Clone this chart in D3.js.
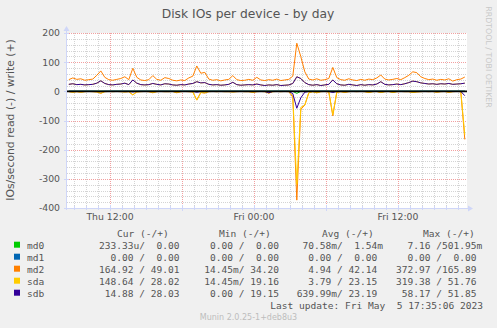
<!DOCTYPE html>
<meta charset="utf-8">
<script src="https://d3js.org/d3.v7.min.js"></script>
<style>
body { margin: 0; background: #f0f0f0; }
svg { display: block; }
.mono { font-family: "DejaVu Sans Mono", monospace; font-size: 9.55px; fill: #555; white-space: pre; }
.sans { font-family: "DejaVu Sans", sans-serif; fill: #555; }
</style>
<div id="chart"></div>
<script>

// devices and munin colours
var devices = ["md0", "md1", "md2", "sda", "sdb"];
var colors = ["#00CC00", "#0066B3", "#FF8000", "#FFCC00", "#330099"];

// one sample every 20 minutes, first at Thu 08:34
var firstSample = new Date(2023, 4, 4, 8, 34);
var stepMinutes = 20;

// IOs/second, read (drawn negative) and write (positive)
var md0Read  = [0,0,0,0,0,0,0,0,0,0, 0,0,0,0,0,0,0,0,0,0, 0,0,0,0,0,0,0,0,0,0, 0,0,0,0,0,0,0,0,0,0,
                0,0,0,0,0,0,0,0,0,0, 0,0,0,0,0,0,0,7,0,0, 0,0,0,0,0,0,0,0,0,0, 0,0,0,0,0,0,0,0,0,0,
                0,0,0,0,0,0,0,0,0,0, 0,0,0,0,0,0,0,0,0,0];
var md0Write = [0,0,0,0,0,0,0,0,0,0, 0,0,0,0,0,0,0,0,0,0, 0,0,0,0,0,0,0,0,0,0, 0,0,0,0,0,0,0,0,0,0,
                0,0,0,0,0,0,0,0,0,0, 0,0,0,0,0,0,0,0,0,0, 0,0,0,0,0,0,0,0,0,0, 0,0,0,0,0,0,0,0,0,0,
                0,0,0,0,0,0,0,0,0,0, 0,0,0,0,0,0,0,0,0,0];
var md1Read  = [0,0,0,0,0,0,0,0,0,0, 0,0,0,0,0,0,0,0,0,0, 0,0,0,0,0,0,0,0,0,0, 0,0,0,0,0,0,0,0,0,0,
                0,0,0,0,0,0,0,0,0,0, 0,0,0,0,0,0,0,0,0,0, 0,0,0,0,0,0,0,0,0,0, 0,0,0,0,0,0,0,0,0,0,
                0,0,0,0,0,0,0,0,0,0, 0,0,0,0,0,0,0,0,0,0];
var md1Write = [0,0,0,0,0,0,0,0,0,0, 0,0,0,0,0,0,0,0,0,0, 0,0,0,0,0,0,0,0,0,0, 0,0,0,0,0,0,0,0,0,0,
                0,0,0,0,0,0,0,0,0,0, 0,0,0,0,0,0,0,0,0,0, 0,0,0,0,0,0,0,0,0,0, 0,0,0,0,0,0,0,0,0,0,
                0,0,0,0,0,0,0,0,0,0, 0,0,0,0,0,0,0,0,0,0];
var md2Read  = [1,3,1,3,1,0.5,1,2,7,1, 0.5,1,0.5,1,2,1,12,2,1,0.5, 1,5,1,0.5,1,1,0.5,5,1,0.5,
                1,2,30,4,6,1,0.5,1,0.5,1, 1,2,1,0.5,1,1,4,1,0.5,1, 6,1,0.5,1,0.5,1,20,373,62,47,
                5,1,5,1,0.5,2,84,3,1,4, 1,0.5,1,0.5,1,4,1,0.5,4,1, 0.5,4,1,0.5,1,1,4,2,1,0.5,
                1,0.5,3,1,0.5,3,1,0.5,1,165];
var md2Write = [40,46,41,43,38,40,42,55,70,48, 40,38,41,44,50,40,79,48,39,37, 40,54,41,38,47,44,38,36,39,37,
                46,52,87,62,65,42,38,40,36,39, 41,54,40,37,38,41,38,48,39,37, 40,38,42,37,39,41,52,165,119,67,
                42,39,43,38,40,44,82,47,40,38, 43,39,37,41,38,42,40,46,56,42, 39,41,44,40,47,55,67,64,50,44,
                40,42,38,41,39,43,35,40,42,49];
var sdaRead  = [1,3,1,3,1,0.5,1,2,6,1, 0.5,1,0.5,1,2,1,12,2,1,0.5, 1,4,1,0.5,1,1,0.5,4,1,0.5,
                1,2,30,4,5,1,0.5,1,0.5,1, 1,2,1,0.5,1,1,3,1,0.5,1, 6,1,0.5,1,0.5,1,15,319,55,47,
                5,1,5,1,0.5,2,80,3,1,3, 1,0.5,1,0.5,1,4,1,0.5,4,1, 0.5,4,1,0.5,1,1,4,2,1,0.5,
                1,0.5,3,1,0.5,3,1,0.5,1,149];
var sdaWrite = [24,26,23,24,22,23,24,28,36,27, 23,22,24,25,28,23,39,28,23,22, 23,27,24,22,26,25,22,21,23,22,
                25,27,33,29,30,24,22,23,21,22, 24,31,23,21,22,23,22,25,22,20, 22,21,23,20,21,22,27,50,44,30,
                23,21,23,20,22,24,39,26,22,21, 24,22,20,23,21,23,22,25,33,24, 22,23,25,23,26,30,35,33,29,27,
                25,26,24,26,25,27,24,25,26,28];
var sdbRead  = [0.3,0.3,0.3,0.3,0.3,0.3,0.3,0.5,1,0.3, 0.3,0.3,0.3,0.3,0.3,0.3,2,0.3,0.3,0.3, 0.3,0.5,0.3,0.3,0.3,0.3,0.3,0.5,0.3,0.3,
                0.3,0.3,3,0.5,0.5,0.3,0.3,0.3,0.3,0.3, 0.3,0.3,0.3,0.3,0.3,0.3,0.5,0.3,0.3,0.3, 5,0.3,0.3,0.3,0.3,0.3,8,58,22,3,
                0.5,0.3,0.5,0.3,0.3,0.3,4,0.3,0.3,0.3, 0.3,0.3,0.3,0.3,0.3,0.3,0.3,0.3,0.3,0.3, 0.3,0.3,0.3,0.3,0.3,0.3,0.5,0.3,0.3,0.3,
                0.3,0.3,0.3,0.3,0.3,0.3,0.3,0.3,0.3,15];
var sdbWrite = [24,26,23,24,22,23,24,28,36,27, 23,22,24,25,28,23,39,28,23,22, 23,27,24,22,26,25,22,21,23,22,
                25,27,33,29,30,24,22,23,21,22, 24,31,23,21,22,23,22,25,22,20, 22,21,23,20,21,22,27,50,44,30,
                23,21,23,20,22,24,39,26,22,21, 24,22,20,23,21,23,22,25,33,24, 22,23,25,23,26,30,35,33,29,27,
                25,26,24,26,25,27,24,25,26,28];

var readSeries = [md0Read, md1Read, md2Read, sdaRead, sdbRead];
var writeSeries = [md0Write, md1Write, md2Write, sdaWrite, sdbWrite];

// axis ticks
var yTicks = [200, 100, 0, -100, -200, -300, -400];
var xTickDates = [new Date(2023, 4, 4, 12), new Date(2023, 4, 5, 0), new Date(2023, 4, 5, 12)];
var xTickLabels = ["Thu 12:00", "Fri 00:00", "Fri 12:00"];

// legend table (cur / min / avg / max as munin prints them)
var legendHeaders = ["Cur (-/+)", "Min (-/+)", "Avg (-/+)", "Max (-/+)"];
var legendCur = ["233.33u/  0.00", "  0.00 /  0.00", "164.92 / 49.01", "148.64 / 28.02", " 14.88 / 28.03"];
var legendMin = ["  0.00 /  0.00", "  0.00 /  0.00", " 14.45m/ 34.20", " 14.45m/ 19.16", "  0.00 / 19.15"];
var legendAvg = [" 70.58m/  1.54m", "  0.00 /  0.00", "  4.94 / 42.14", "  3.79 / 23.15", "639.99m/ 23.19"];
var legendMax = ["  7.16 /501.95m", "  0.00 /  0.00", "372.97 /165.89", "319.38 / 51.76", " 58.17 / 51.85"];

var width = 497, height = 328;
var plot = {left: 67, right: 467, top: 33, bottom: 208};

var svg = d3.select("#chart").append("svg")
    .attr("width", width)
    .attr("height", height);

svg.append("rect").attr("width", width).attr("height", height).attr("fill", "#f0f0f0");
svg.append("rect")
    .attr("x", plot.left).attr("y", plot.top)
    .attr("width", plot.right - plot.left).attr("height", plot.bottom - plot.top)
    .attr("fill", "#ffffff");

var x = d3.scaleTime()
    .domain([new Date(2023, 4, 4, 8, 25), new Date(2023, 4, 5, 17, 45)])
    .range([plot.left, plot.right]);
var y = d3.scaleLinear()
    .domain([-400, 200])
    .range([plot.bottom, plot.top]);

var snap = function(v) { return Math.round(v) + 0.5; };

// minor grid
var grid = svg.append("g").attr("shape-rendering", "crispEdges");
var hours = d3.timeHour.range(x.domain()[0], x.domain()[1]);
hours.forEach(function(h) {
  var major = h.getHours() % 6 == 0;
  grid.append("line")
    .attr("x1", snap(x(h))).attr("x2", snap(x(h)))
    .attr("y1", plot.top).attr("y2", plot.bottom)
    .attr("stroke", major ? "#f2a0a0" : "#d4d4d4")
    .attr("stroke-dasharray", "1,1");
});
d3.range(-380, 201, 20).forEach(function(v) {
  if (v == 0) return;
  var major = v % 100 == 0;
  grid.append("line")
    .attr("x1", plot.left).attr("x2", plot.right)
    .attr("y1", snap(y(v))).attr("y2", snap(y(v)))
    .attr("stroke", major ? "#f2a0a0" : "#d4d4d4")
    .attr("stroke-dasharray", "1,1");
});

// axis lines with arrows
var axisColor = "#cfd6f8";
svg.append("line")
  .attr("x1", 66.5).attr("x2", 66.5).attr("y1", plot.bottom + 2).attr("y2", 30)
  .attr("stroke", axisColor);
svg.append("line")
  .attr("x1", 64).attr("x2", 470).attr("y1", plot.bottom + 0.5).attr("y2", plot.bottom + 0.5)
  .attr("stroke", axisColor);
svg.append("path").attr("d", "M63.5,31 L66.5,26 L69.5,31 Z").attr("fill", axisColor);
svg.append("path").attr("d", "M468,205.5 L473,208.5 L468,211.5 Z").attr("fill", axisColor);
yTicks.forEach(function(v) {
  svg.append("line")
    .attr("x1", 64).attr("x2", 69).attr("y1", snap(y(v))).attr("y2", snap(y(v)))
    .attr("stroke", axisColor);
});
hours.forEach(function(h) {
  var len = h.getHours() % 6 == 0 ? 3 : 2;
  svg.append("line")
    .attr("x1", snap(x(h))).attr("x2", snap(x(h)))
    .attr("y1", plot.bottom - len).attr("y2", plot.bottom + len)
    .attr("stroke", axisColor);
});

// data lines
svg.append("clipPath").attr("id", "clip")
  .append("rect")
    .attr("x", plot.left).attr("y", plot.top)
    .attr("width", plot.right - plot.left).attr("height", plot.bottom - plot.top);

var sampleTime = function(i) {
  return new Date(firstSample.getTime() + i * stepMinutes * 60000);
};
var lineRead = d3.line()
  .x(function(d, i) { return x(sampleTime(i)); })
  .y(function(d) { return y(-d); });
var lineWrite = d3.line()
  .x(function(d, i) { return x(sampleTime(i)); })
  .y(function(d) { return y(d); });

var lines = svg.append("g").attr("clip-path", "url(#clip)");
devices.forEach(function(dev, k) {
  lines.append("path")
    .attr("d", lineRead(readSeries[k]))
    .attr("fill", "none").attr("stroke", colors[k]).attr("stroke-width", 1);
  lines.append("path")
    .attr("d", lineWrite(writeSeries[k]))
    .attr("fill", "none").attr("stroke", colors[k]).attr("stroke-width", 1);
});

// zero line
svg.append("line")
  .attr("x1", plot.left).attr("x2", plot.right)
  .attr("y1", y(0)).attr("y2", y(0))
  .attr("stroke", "#000").attr("stroke-width", 1.6);

// tick labels
svg.selectAll(".ylab").data(yTicks).enter().append("text")
  .attr("class", "sans")
  .attr("x", 60).attr("y", function(d) { return y(d) + 3.4; })
  .attr("text-anchor", "end")
  .style("font-size", "9.3px")
  .text(function(d) { return d; });
svg.selectAll(".xlab").data(xTickDates).enter().append("text")
  .attr("class", "sans")
  .attr("x", function(d) { return x(d); }).attr("y", 219.5)
  .attr("text-anchor", "middle")
  .style("font-size", "9.3px")
  .text(function(d, i) { return xTickLabels[i]; });

// title, vertical label, watermark
svg.append("text").attr("class", "sans")
  .attr("x", 248).attr("y", 18).attr("text-anchor", "middle")
  .style("font-size", "12.3px")
  .text("Disk IOs per device - by day");
svg.append("text").attr("class", "sans")
  .attr("transform", "translate(14,120) rotate(-90)")
  .attr("text-anchor", "middle")
  .style("font-size", "10.8px")
  .text("IOs/second read (-) / write (+)");
svg.append("text")
  .attr("transform", "translate(486,57) rotate(90)")
  .attr("text-anchor", "middle")
  .style("font-family", "DejaVu Sans").style("font-size", "7.9px").style("fill", "#c8c8c8")
  .text("RRDTOOL / TOBI OETIKER");

// legend
var colX = [99, 198.5, 296.7, 396];
var headX = [117, 219, 322, 423];
legendHeaders.forEach(function(h, j) {
  svg.append("text").attr("class", "mono").attr("x", headX[j]).attr("y", 236.8).text(h);
});
var cols = [legendCur, legendMin, legendAvg, legendMax];
devices.forEach(function(dev, k) {
  var by = 248.7 + k * 12;
  svg.append("rect")
    .attr("x", 14).attr("y", by - 7).attr("width", 6).attr("height", 6)
    .attr("fill", colors[k]);
  svg.append("text").attr("class", "mono").attr("x", 27).attr("y", by).text(dev);
  cols.forEach(function(col, j) {
    svg.append("text").attr("class", "mono").attr("x", colX[j]).attr("y", by).text(col[k]);
  });
});
svg.append("text").attr("class", "mono")
  .attr("x", 483).attr("y", 308.5).attr("text-anchor", "end")
  .text("Last update: Fri May  5 17:35:06 2023");
svg.append("text")
  .attr("x", 248.5).attr("y", 320).attr("text-anchor", "middle")
  .style("font-family", "DejaVu Sans").style("font-size", "8px").style("fill", "#bdbdbd")
  .text("Munin 2.0.25-1+deb8u3");

</script>
